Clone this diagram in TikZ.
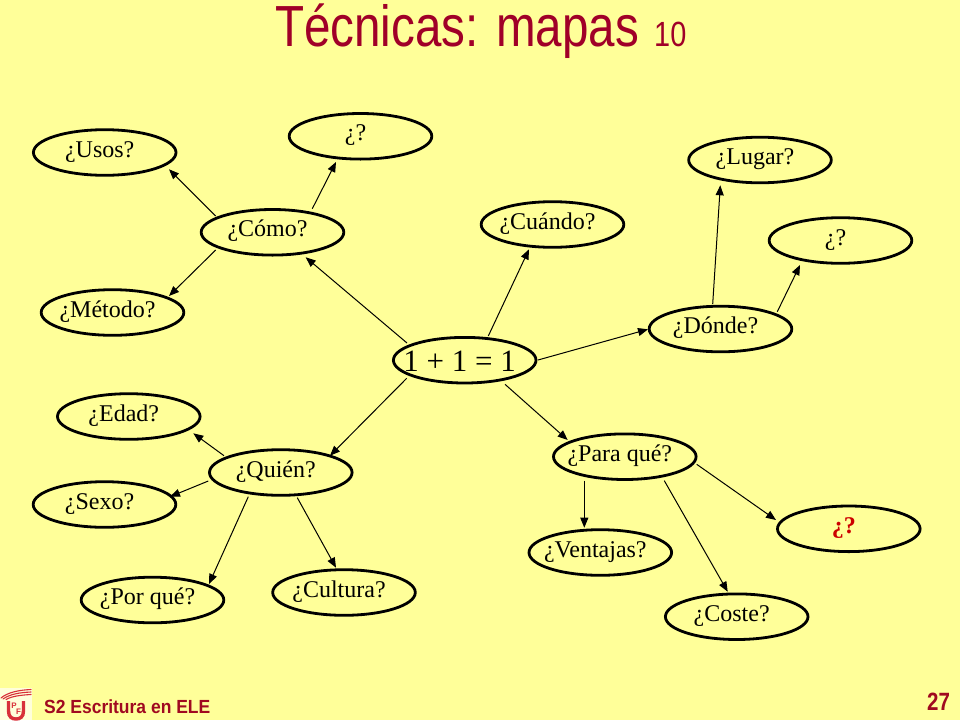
\documentclass[tikz,border=0pt]{standalone}
\usepackage{fontspec}
\setmainfont{Liberation Serif}
\newfontfamily\arialf{Liberation Sans}
\usetikzlibrary{shapes.geometric,arrows.meta}
\definecolor{bgy}{HTML}{FFFF99}
\definecolor{titlered}{HTML}{A00028}
\definecolor{footred}{HTML}{A00A20}
\definecolor{qred}{HTML}{CC0000}
\definecolor{logored}{HTML}{D8303A}
\newcommand\tx[1]{\makebox[0pt]{#1\kern10pt}}
\newcommand\lnk[6]{\draw[conn] ([shift={(#2,#3)}]#1.center) -- ([shift={(#5,#6)}]#4.center);}
\tikzset{
  idea/.style={ellipse,draw=black,line width=2.8pt,minimum width=142.6pt,minimum height=45.6pt,inner sep=0pt,
    font=\fontsize{24}{24}\selectfont,text height=14pt,text depth=4.8pt},
  hub/.style={idea,font=\fontsize{31}{31}\selectfont,text height=23pt,text depth=0pt},
  conn/.style={draw=black,line width=1pt,-{Triangle[length=10pt,width=8pt]}},
  lab/.style={inner sep=0pt,anchor=base west},
  swoosh/.style={draw=logored,line width=1.1pt,line cap=round},
  logotxt/.style={inner sep=0pt,text=logored,font=\arialf\bfseries\fontsize{8}{8}\selectfont}
}
\begin{document}
\begin{tikzpicture}[x=1pt,y=-1pt]
\useasboundingbox (0,0) rectangle (960,720);
\fill[bgy] (0,0) rectangle (960,720);
% title and footer
\node[lab,text=titlered] (title) at (275,46.7) {\arialf\scalebox{.82}[1]{\fontsize{58}{58}\selectfont Técnicas: mapas}};
\node[lab,text=titlered] (num) at (654,46.7) {\arialf\scalebox{.826}[1]{\fontsize{35}{35}\selectfont 10}};
\node[lab,text=footred] (foot) at (44,713.3) {\arialf\bfseries\scalebox{.92}[1]{\fontsize{19}{19}\selectfont S2 Escritura en ELE}};
\node[lab,text=footred] (page) at (927,710.7) {\arialf\bfseries\scalebox{.82}[1]{\fontsize{25}{25}\selectfont 27}};
% logo
\fill[bgy!35!white] (0,688) rectangle (32,720);
\draw[swoosh] (1,698) .. controls (8,692) and (20,690) .. (31,689.5);
\draw[swoosh] (3,699) .. controls (10,694) and (20,692.5) .. (31,692);
\draw[swoosh] (6,699.5) .. controls (12,696) and (22,695) .. (31,694.5);
\draw[logored,line width=3.4pt] (8.5,701) -- (8.5,711) .. controls (8.5,717) and (12,719) .. (16,719) .. controls (20,719) and (23.5,717) .. (23.5,711) -- (23.5,701);
\node[logotxt] (lp) at (14,706) {P};
\node[logotxt] (lf) at (18.5,711.5) {F};
% nodes
\node[hub] (main) at (464.7,360.2) {\tx{1 + 1 = 1}};
\node[idea] (como) at (272.5,232.3) {\tx{¿Cómo?}};
\node[idea] (usos) at (104.7,152.5) {\tx{¿Usos?}};
\node[idea] (qa) at (360.5,136.3) {\tx{¿?}};
\node[idea] (metodo) at (112.5,312.5) {\tx{¿Método?}};
\node[idea] (cuando) at (552.5,224.5) {\tx{¿Cuándo?}};
\node[idea] (donde) at (720.5,329) {\tx{¿Dónde?}};
\node[idea] (lugar) at (760,160) {\tx{¿Lugar?}};
\node[idea] (qb) at (840.5,240.5) {\tx{¿?}};
\node[idea] (quien) at (280.8,472.5) {\tx{¿Quién?}};
\node[idea] (edad) at (128.8,416.5) {\tx{¿Edad?}};
\node[idea] (sexo) at (104.5,504.5) {\tx{¿Sexo?}};
\node[idea] (porque) at (152.5,600) {\tx{¿Por qué?}};
\node[idea] (cultura) at (344,592.5) {\tx{¿Cultura?}};
\node[idea] (para) at (624.8,456.7) {\tx{¿Para qué?}};
\node[idea,text=qred,font=\fontsize{24}{24}\selectfont\bfseries] (qc) at (848.8,528.8) {\tx{¿?}};
\node[idea] (ventajas) at (600.3,552.5) {\tx{¿Ventajas?}};
\node[idea] (coste) at (736.7,616.7) {\tx{¿Coste?}};
% connectors: each from node to node, offsets from the node centres
\lnk{main}{-57.7}{-17.2}{como}{33.2}{25}
\lnk{como}{-56.8}{-16.3}{usos}{64.3}{16.8}
\lnk{como}{39.8}{-23.6}{qa}{-24.5}{25.7}
\lnk{como}{-56.8}{17.7}{metodo}{56.5}{-16.5}
\lnk{main}{23.6}{-24.2}{cuando}{-23.5}{24.8}
\lnk{main}{73.3}{-0.2}{donde}{-72.5}{0.3}
\lnk{donde}{-7.8}{-25}{lugar}{-39.7}{25.3}
\lnk{donde}{56.8}{-17.3}{qb}{-40.5}{24.5}
\lnk{main}{-58}{18.1}{quien}{49.2}{-16.8}
\lnk{quien}{-56.8}{-16.8}{edad}{64.5}{16.8}
\lnk{quien}{-72.5}{8.5}{sexo}{65.5}{-7.8}
\lnk{quien}{-32.5}{24.2}{porque}{56.5}{-16}
\lnk{quien}{16.5}{25.2}{cultura}{-8}{-24.8}
\lnk{main}{40.3}{24.1}{para}{-57.1}{-16.7}
\lnk{para}{71.9}{7.6}{qc}{-72.8}{-8.8}
\lnk{para}{39.5}{24}{coste}{-9}{-25}
\lnk{para}{-40.5}{24}{ventajas}{-16}{-24.8}
\end{tikzpicture}
\end{document}
